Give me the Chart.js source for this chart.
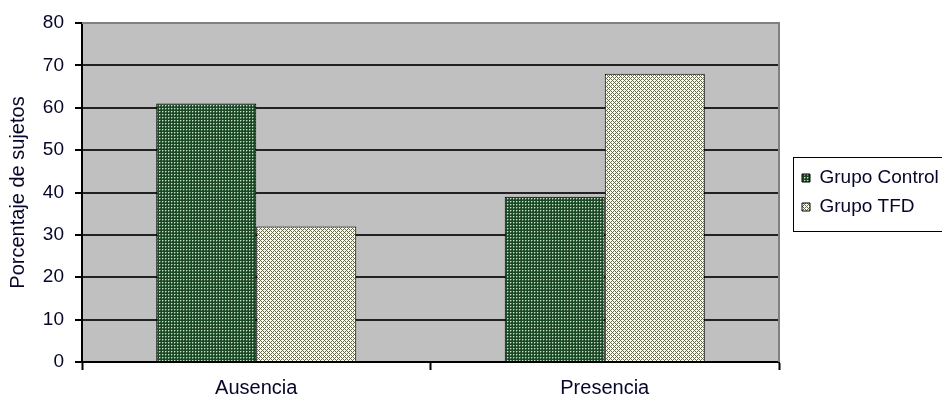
<!DOCTYPE html>
<html>
<head>
<meta charset="utf-8">
<script src="https://cdn.jsdelivr.net/npm/chart.js@4"></script>
<style>
  body { margin: 0; background: #fff; }
  #wrap { width: 942px; height: 399px; }
</style>
</head>
<body>
<div id="wrap"><canvas id="chart" width="942" height="399"></canvas></div>
<script>
const categories = ['Ausencia', 'Presencia'];
const seriesNames = ['Grupo Control', 'Grupo TFD'];
const controlValues = [61, 39];
const tfdValues = [32, 68];
const yTicks = [0, 10, 20, 30, 40, 50, 60, 70, 80];

const TEXT = '#06062a';
Chart.defaults.font.family = '"Liberation Sans", Arial, sans-serif';
Chart.defaults.color = TEXT;

// build the small hatch fills used by Excel-style bars
function makePattern(size, paint) {
  const c = document.createElement('canvas');
  c.width = size; c.height = size;
  const g = c.getContext('2d');
  paint(g);
  return g.createPattern(c, 'repeat');
}

const controlFill = makePattern(3, g => {
  g.fillStyle = '#1b4825';
  g.fillRect(0, 0, 3, 3);
  g.fillStyle = '#5f8a65';
  g.fillRect(1, 0, 1, 1);
  g.fillRect(0, 1, 1, 1);
  g.fillStyle = '#cfdccf';
  g.fillRect(0, 0, 1, 1);
});

const tfdFill = makePattern(4, g => {
  g.fillStyle = '#fdfdf4';
  g.fillRect(0, 0, 4, 4);
  g.fillStyle = '#636c48';
  for (let x = 0; x < 4; x++) {
    for (let y = 0; y < 4; y++) {
      if ((x + y) % 4 === 0 || (x - y + 4) % 4 === 0) g.fillRect(x, y, 1, 1);
    }
  }
});

const plotFrame = {
  id: 'plotFrame',
  beforeDraw(chart) {
    const a = chart.chartArea;
    const ctx = chart.ctx;
    ctx.save();
    ctx.fillStyle = '#c0c0c0';
    ctx.fillRect(a.left, a.top, a.right - a.left, a.bottom - a.top);
    ctx.restore();
  },
  afterDatasetsDraw(chart) {
    const a = chart.chartArea;
    const ctx = chart.ctx;
    ctx.save();
    ctx.strokeStyle = '#808080';
    ctx.lineWidth = 2;
    ctx.beginPath();
    ctx.moveTo(a.left, a.top);
    ctx.lineTo(a.right, a.top);
    ctx.lineTo(a.right, a.bottom);
    ctx.stroke();
    ctx.restore();
  },
  afterDraw(chart) {
    const lg = chart.legend;
    if (!lg || !lg.legendHitBoxes || !lg.legendHitBoxes.length) return;
    const boxes = lg.legendHitBoxes;
    const first = boxes[0], last = boxes[boxes.length - 1];
    const ctx = chart.ctx;
    ctx.save();
    ctx.strokeStyle = '#000';
    ctx.lineWidth = 1;
    const x = Math.round(first.left - 9) + 0.5;
    const y = Math.round(first.top - 12) + 0.5;
    const b = Math.round(last.top + last.height + 14) + 0.5;
    ctx.strokeRect(x, y, chart.width + 10 - x, b - y);
    ctx.restore();
  }
};

new Chart(document.getElementById('chart'), {
  type: 'bar',
  data: {
    labels: categories,
    datasets: [
      {
        label: seriesNames[0],
        data: controlValues,
        backgroundColor: controlFill,
        borderColor: '#000',
        borderWidth: 1,
        categoryPercentage: 0.574,
        barPercentage: 1
      },
      {
        label: seriesNames[1],
        data: tfdValues,
        backgroundColor: tfdFill,
        borderColor: '#000',
        borderWidth: 1,
        categoryPercentage: 0.574,
        barPercentage: 1
      }
    ]
  },
  options: {
    responsive: false,
    devicePixelRatio: 1,
    animation: false,
    layout: { padding: { top: 23, right: 0, bottom: 0, left: 0 } },
    plugins: {
      tooltip: { enabled: false },
      legend: {
        position: 'right',
        fullSize: false,
        maxWidth: 150,
        labels: {
          boxWidth: 8,
          boxHeight: 8,
          padding: 10,
          font: { size: 19 },
          color: TEXT
        }
      }
    },
    scales: {
      x: {
        offset: true,
        grid: {
          display: true,
          offset: true,
          drawOnChartArea: false,
          tickLength: 8,
          tickColor: '#000',
          tickWidth: 2
        },
        border: { display: true, color: '#000', width: 2 },
        ticks: { font: { size: 20 }, padding: 6, color: TEXT },
        afterFit(scale) { scale.height = 37; }
      },
      y: {
        min: 0,
        max: 80,
        afterBuildTicks(scale) { scale.ticks = yTicks.map(v => ({ value: v })); },
        grid: {
          color: c => (c.tick && c.tick.value === 80 ? '#808080' : '#222'),
          lineWidth: 2,
          tickLength: 7,
          tickColor: '#000',
          tickWidth: 2
        },
        border: { display: true, color: '#000', width: 2 },
        ticks: { font: { size: 19 }, padding: 11, color: TEXT },
        title: {
          display: true,
          text: 'Porcentaje de sujetos',
          font: { size: 20 },
          padding: { top: 6, bottom: 0 },
          color: TEXT
        },
        afterFit(scale) { scale.width = 82; }
      },
      // empty spacer axis: keeps the gap between the plot and the legend
      gap: {
        type: 'linear',
        position: 'right',
        display: true,
        grid: { display: false },
        border: { display: false },
        ticks: { display: false },
        afterFit(scale) { scale.width = 13; }
      }
    }
  },
  plugins: [plotFrame]
});
</script>
</body>
</html>
